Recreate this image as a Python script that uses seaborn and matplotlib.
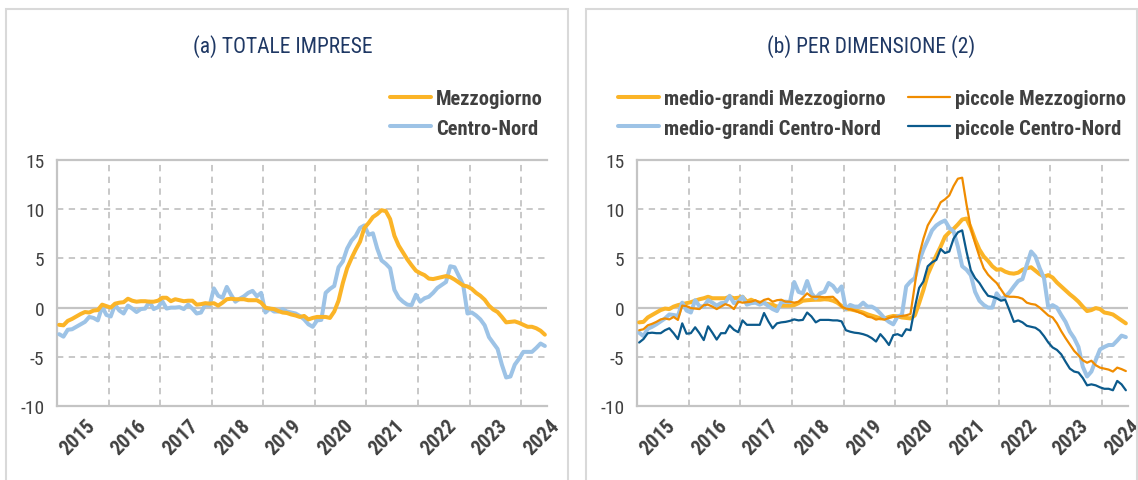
import matplotlib
matplotlib.use("Agg")
import numpy as np
import pandas as pd
import matplotlib.pyplot as plt
from matplotlib import font_manager
from matplotlib.patches import Rectangle
import seaborn as sns

# monthly series, Jan 2015 - Jun 2024
years = [str(y) for y in range(2015, 2025)]
yticks = [-10, -5, 0, 5, 10, 15]

mezzogiorno = [
    -1.75, -1.8, -1.35, -1.15, -0.9, -0.65, -0.45, -0.5, -0.3, -0.25,
    0.3, 0.15, 0.0, 0.4, 0.5, 0.55, 0.9, 0.7, 0.6, 0.65,
    0.65, 0.6, 0.6, 0.7, 1.0, 1.0, 0.65, 0.85, 0.75, 0.65,
    0.7, 0.7, 0.3, 0.35, 0.45, 0.4, 0.45, 0.2, 0.5, 0.85,
    0.9, 0.85, 0.85, 0.85, 0.75, 0.75, 0.75, 0.5, 0.0, -0.1,
    -0.15, -0.35, -0.5, -0.55, -0.7, -0.8, -0.95, -0.85, -1.2, -1.05,
    -0.95, -0.95, -0.95, -1.05, -0.4, 0.7, 2.5, 4.0, 5.0, 5.9,
    6.7, 8.1, 8.6, 9.2, 9.5, 9.9, 9.8, 9.0, 7.3, 6.3,
    5.6, 4.9, 4.3, 3.75, 3.5, 3.3, 2.95, 2.9, 3.0, 3.1,
    3.2, 3.1, 2.85, 2.55, 2.25, 2.15, 1.9, 1.5, 1.2, 0.8,
    0.2, -0.2, -0.45, -0.95, -1.5, -1.45, -1.4, -1.55, -1.75, -1.95,
    -1.95, -2.1, -2.35, -2.75,
]
centro_nord = [
    -2.7, -2.95, -2.25, -2.2, -1.95, -1.7, -1.45, -0.95, -1.05, -1.3,
    0.1, -0.75, -0.9, 0.3, -0.3, -0.6, 0.2, -0.1, -0.45, -0.15,
    -0.1, 0.6, -0.15, 0.05, 0.65, -0.1, 0.0, 0.0, 0.05, -0.15,
    0.3, -0.1, -0.6, -0.5, 0.3, 0.2, 1.95, 1.2, 1.0, 2.1,
    1.3, 0.6, 0.9, 1.15, 1.5, 1.7, 1.15, 1.5, -0.5, -0.1,
    -0.4, -0.4, -0.15, -0.4, -0.5, -0.6, -0.85, -1.2, -1.7, -1.95,
    -1.3, -1.25, 1.5, 1.9, 2.2, 4.1, 4.7, 6.0, 6.8, 7.3,
    8.1, 8.35, 7.4, 7.55, 6.0, 4.8, 4.45, 4.0, 1.8, 1.0,
    0.6, 0.3, 0.25, 1.3, 0.6, 0.95, 1.1, 1.5, 2.0, 2.3,
    2.6, 4.2, 4.1, 3.2, 2.3, -0.6, -0.5, -0.8, -1.2, -1.8,
    -3.0, -3.6, -4.2, -5.8, -7.1, -7.0, -5.8, -5.2, -4.5, -4.5,
    -4.5, -4.1, -3.65, -3.9,
]

mg_mezzogiorno = [
    -1.5, -1.45, -1.0, -0.75, -0.5, -0.25, -0.1, -0.15, 0.1, 0.25,
    0.35, 0.45, 0.55, 0.7, 0.85, 0.95, 1.1, 0.95, 0.95, 0.95,
    0.95, 1.1, 0.95, 1.0, 1.1, 0.6, 0.8, 0.6, 0.5, 0.45,
    0.35, 0.3, 0.1, 0.2, 0.2, 0.2, 0.25, 0.45, 0.7, 0.75,
    0.78, 0.8, 0.8, 0.85, 0.82, 0.7, 0.5, 0.17, -0.17, -0.17,
    -0.27, -0.37, -0.5, -0.68, -0.82, -0.95, -1.1, -1.1, -0.95, -0.85,
    -0.88, -1.0, -1.05, -1.1, -0.8, 0.45, 1.8, 3.35, 4.35, 5.3,
    6.2, 7.2, 7.65, 8.0, 8.45, 8.95, 9.05, 8.1, 6.9, 5.9,
    5.2, 4.75, 4.2, 3.85, 3.9, 3.65, 3.5, 3.45, 3.55, 3.85,
    4.0, 4.1, 3.75, 3.4, 3.15, 3.3, 3.05, 2.55, 2.15, 1.75,
    1.35, 1.0, 0.6, 0.1, -0.35, -0.25, -0.05, -0.15, -0.5, -0.58,
    -0.7, -1.0, -1.3, -1.6,
]
pic_mezzogiorno = [
    -2.3, -2.2, -1.8, -1.65, -1.45, -1.2, -1.1, -1.2, -0.95, -1.25,
    0.2, 0.15, -0.05, -0.1, -0.15, 0.25, 0.3, 0.1, -0.15, 0.1,
    0.35, 0.2, -0.15, 0.6, 0.5, 0.55, 0.6, 0.75, 0.5, 0.78,
    0.9, 0.6, 0.75, 0.8, 0.6, 0.6, 0.5, 0.6, 1.0, 1.45,
    1.1, 1.1, 1.1, 1.05, 1.08, 1.1, 0.7, 0.1, -0.1, -0.17,
    -0.3, -0.48, -0.65, -0.92, -1.0, -1.22, -1.12, -1.22, -1.05, -0.92,
    -0.92, -0.85, -0.78, -0.65, 2.3, 5.3, 7.0, 8.35, 9.1, 9.8,
    10.7, 11.0, 11.4, 12.35, 13.1, 13.2, 10.5, 8.1, 6.55, 5.2,
    4.0, 3.35, 2.9, 2.5, 1.85, 1.2, 1.1, 1.1, 1.05, 0.9,
    0.5, 0.37, 0.3, 0.0, -0.4, -0.8, -1.0, -1.6, -2.4, -3.1,
    -3.75, -4.4, -4.85, -5.35, -5.6, -5.4, -5.85, -6.1, -6.2, -6.3,
    -6.5, -6.1, -6.25, -6.45,
]
mg_centro_nord = [
    -2.55, -2.9, -2.15, -1.95, -1.7, -1.4, -1.1, -0.7, -0.75, -0.85,
    0.5, -0.3, -0.5, 0.75, 0.15, 0.1, 0.75, 0.5, 0.2, 0.45,
    0.5, 1.2, 0.45, 0.6, 1.1, 0.3, 0.45, 0.5, 0.3, 0.5,
    0.15, -0.15, -0.35, 0.55, 0.6, 0.55, 2.6, 1.6, 1.45, 2.7,
    1.45, 0.95, 1.45, 1.6, 2.5, 2.2, 1.6, 2.15, -0.17, 0.27,
    0.1, 0.1, 0.5, 0.1, 0.1, -0.15, -0.6, -1.1, -1.45, -1.7,
    -0.9, -0.75, 2.15, 2.65, 3.0, 4.7, 5.9, 6.85, 7.85, 8.35,
    8.65, 8.85, 8.1, 7.75, 6.2, 4.2, 3.85, 3.3, 1.6, 0.7,
    0.27, 0.0, 0.0, 1.45, 0.85, 1.1, 1.55, 2.15, 2.7, 2.9,
    4.35, 5.7, 5.2, 4.0, 3.0, 0.0, 0.25, 0.0, -0.75, -1.45,
    -2.45, -3.1, -4.0, -6.0, -7.0, -6.5, -5.35, -4.25, -4.0, -3.8,
    -3.8, -3.35, -2.85, -3.0,
]
pic_centro_nord = [
    -3.55, -3.2, -2.6, -2.55, -2.6, -2.6, -2.3, -2.1, -2.6, -3.2,
    -1.6, -2.65, -2.6, -2.0, -2.6, -3.3, -1.9, -2.55, -3.25, -2.6,
    -2.6, -1.8, -2.25, -2.5, -1.3, -1.75, -1.75, -1.75, -1.75, -0.55,
    -1.4, -2.1, -1.6, -1.5, -1.45, -1.35, -1.2, -1.3, -1.25, -0.5,
    -0.9, -1.5, -1.25, -1.25, -1.25, -1.3, -1.3, -1.4, -2.3, -2.45,
    -2.55, -2.6, -2.7, -2.85, -3.1, -3.45, -2.7, -3.2, -3.8, -2.8,
    -2.7, -2.9, -2.2, -2.3, 0.0, 2.0, 2.65, 4.2, 4.6, 4.85,
    5.95, 5.55, 5.7, 7.0, 7.65, 7.85, 5.7, 3.8, 3.0, 2.5,
    1.8, 1.2, 1.1, 0.95, 0.7, 0.8, -0.3, -1.45, -1.3, -1.5,
    -1.85, -1.95, -2.05, -2.35, -2.9, -3.55, -4.05, -4.3, -4.75, -5.5,
    -6.2, -6.5, -6.6, -7.15, -7.9, -7.8, -7.9, -8.1, -8.25, -8.25,
    -8.4, -7.45, -7.8, -8.4,
]

YELLOW = "#FBB427"
LIGHTBLUE = "#9DC3E6"
ORANGE = "#F08C00"
DARKBLUE = "#0B5A8C"
GRID = "#c4c4c4"
TEXT = "#404040"
NAVY = "#1F3864"

sns.set_theme(style="white")
available = {f.name for f in font_manager.fontManager.ttflist}
FONT = "DejaVu Sans"
for cand in ["Roboto Condensed", "Liberation Sans Narrow", "DejaVu Sans"]:
    if cand in available:
        FONT = cand
        break
plt.rcParams["font.family"] = [FONT, "DejaVu Sans"]
plt.rcParams["font.stretch"] = "condensed"
plt.rcParams["axes.unicode_minus"] = False

W, H = 1138, 481
fig = plt.figure(figsize=(W / 100, H / 100), dpi=100)


def fx(px):
    return px / W


def fy(py):
    return 1 - py / H


# panel frames
for x0, x1 in [(6, 568), (586, 1137)]:
    fig.add_artist(Rectangle((fx(x0), fy(490)), fx(x1 - x0), (490 - 10) / H,
                             transform=fig.transFigure, fill=False,
                             edgecolor="#d9d9d9", linewidth=1.5))

n = len(mezzogiorno)
month = np.arange(n)


def setup_axis(ax):
    ax.set_xlim(-0.5, n - 0.5)
    ax.set_ylim(-10, 15)
    ax.set_yticks(yticks)
    ax.set_yticklabels([str(v) for v in yticks], fontsize=14, color=TEXT)
    ax.set_xticks([12 * k + 4.3 for k in range(len(years))])
    ax.set_xticklabels(years, rotation=45, ha="center", fontsize=14.5,
                       fontweight="bold", color=TEXT)
    ax.set_xticks([12 * k + 11.5 for k in range(9)], minor=True)
    ax.tick_params(axis="both", which="both", length=0)
    ax.tick_params(axis="y", pad=9)
    ax.tick_params(axis="x", pad=7)
    ax.grid(which="minor", axis="x", color=GRID, linestyle=(0, (3.5, 3)), linewidth=1.3)
    ax.grid(which="major", axis="y", color=GRID, linestyle=(0, (3.5, 3)), linewidth=1.3)
    ax.grid(which="major", axis="x", visible=False)
    ax.axhline(0, color=GRID, linewidth=1.6, zorder=1.5)
    for side in ["left", "top", "bottom"]:
        ax.spines[side].set_color(GRID)
        ax.spines[side].set_linewidth(1.6)
    ax.spines["right"].set_visible(False)
    ax.set_xlabel("")
    ax.set_ylabel("")


legend_kw = dict(bbox_transform=fig.transFigure, frameon=False, borderpad=0,
                 borderaxespad=0, handlelength=2.0, handletextpad=0.25,
                 labelspacing=0.52, prop={"size": 14.8, "weight": "bold"},
                 labelcolor=TEXT)

# (a) totale imprese
ax1 = fig.add_axes([fx(57), fy(407), (547 - 57) / W, (407 - 161) / H])
df1 = pd.DataFrame({"mese": month, "Mezzogiorno": mezzogiorno, "Centro-Nord": centro_nord})
sns.lineplot(data=df1, x="mese", y="Centro-Nord", ax=ax1, color=LIGHTBLUE,
             linewidth=2.9, label="Centro-Nord", zorder=3)
sns.lineplot(data=df1, x="mese", y="Mezzogiorno", ax=ax1, color=YELLOW,
             linewidth=2.9, label="Mezzogiorno", zorder=4)
setup_axis(ax1)
h, l = ax1.get_legend_handles_labels()
ax1.legend([h[1], h[0]], [l[1], l[0]], loc="upper right",
           bbox_to_anchor=(fx(543), fy(90)), **legend_kw)

# (b) per dimensione
ax2 = fig.add_axes([fx(637), fy(407), (1128 - 637) / W, (407 - 161) / H])
df2 = pd.DataFrame({"mese": month,
                    "medio-grandi Mezzogiorno": mg_mezzogiorno,
                    "piccole Mezzogiorno": pic_mezzogiorno,
                    "medio-grandi Centro-Nord": mg_centro_nord,
                    "piccole Centro-Nord": pic_centro_nord})
styles = [("medio-grandi Mezzogiorno", YELLOW, 2.9, 3),
          ("medio-grandi Centro-Nord", LIGHTBLUE, 2.9, 4),
          ("piccole Mezzogiorno", ORANGE, 1.6, 5),
          ("piccole Centro-Nord", DARKBLUE, 1.6, 6)]
for col, c, lw, z in styles:
    sns.lineplot(data=df2, x="mese", y=col, ax=ax2, color=c, linewidth=lw,
                 label=col, zorder=z)
setup_axis(ax2)
ax2.legend(loc="upper left", ncol=2, columnspacing=1.1,
           bbox_to_anchor=(fx(618), fy(90)), **legend_kw)

fig.text(fx(283), fy(47), "(a) TOTALE IMPRESE", ha="center", va="center",
         color=NAVY, fontsize=15.5)
fig.text(fx(871), fy(47), "(b) PER DIMENSIONE (2)", ha="center", va="center",
         color=NAVY, fontsize=15.5)

fig.savefig("out.png", dpi=100)
